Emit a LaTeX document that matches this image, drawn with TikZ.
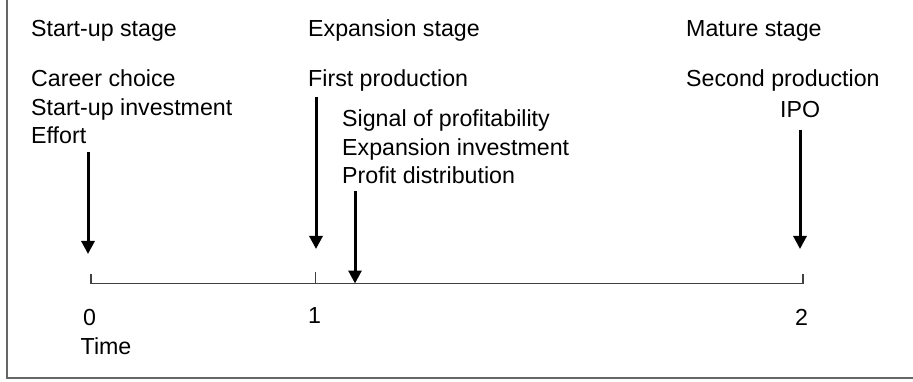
\documentclass[tikz,border=0pt]{standalone}
\usepackage{fontspec}
\setmainfont{Liberation Sans}
\usetikzlibrary{arrows.meta, positioning, calc}
\tikzset{
	x=1pt, y=-1pt, % one unit is one pixel of the page, y runs downwards
	lbl/.style={anchor=base west, inner sep=0pt, font=\fontsize{23.2}{28}\selectfont, text=black}, % every text on the page
	evarrow/.style={line width=3pt, -{Triangle[width=13pt,length=13pt]}}, % the event arrows
	axisline/.style={line width=1.5pt, draw=black!75}, % the time line and its ticks
	frameline/.style={line width=2pt, draw=black!60}, % left and bottom border
}

\begin{document}
\begin{tikzpicture}
		\useasboundingbox (0,0) rectangle (913,382);
		\draw[frameline] (7,0) -- (7,378) -- (913,378);

		% stages
		\node[lbl] (startup_stage) at (31,37) {Start-up stage};
		\node[lbl] (expansion_stage) at (308,37) {Expansion stage};
		\node[lbl] (mature_stage) at (686,37) {Mature stage};

		% events
		\node[lbl] (career) at (31,87) {Career choice};
		\node[lbl] (startup_inv) at (31,115.5) {Start-up investment};
		\node[lbl] (effort) at (31,144) {Effort};
		\node[lbl] (first_prod) at (308,87) {First production};
		\node[lbl] (signal) at (342,127) {Signal of profitability};
		\node[lbl] (expansion_inv) at (342,155.5) {Expansion investment};
		\node[lbl] (profit) at (342,184) {Profit distribution};
		\node[lbl] (second_prod) at (686,87) {Second production};
		\node[lbl] (ipo) at (780,118) {IPO};

		% time line
		\coordinate (tick_0) at (91,283.5);
		\coordinate (tick_1) at (315.5,283.5);
		\coordinate (tick_2) at (803,283.5);
		\draw[axisline] (tick_0) -- (tick_2);
		\draw[axisline] (tick_0) -- ++(0,-10);
		\draw[axisline] (tick_1) -- ++(0,-12);
		\draw[axisline] (tick_2) -- ++(0,-10);

		\node[lbl] (num_0) at (83,325) {0};
		\node[lbl] (num_1) at (308,323) {1};
		\node[lbl] (num_2) at (795,325) {2};
		\node[lbl] (time) at (80.5,354) {Time};

		% arrows
		\coordinate (from_0) at (88,152);
		\coordinate (to_0) at (88,254);
		\coordinate (from_1) at (316,97);
		\coordinate (to_1) at (316,249);
		\coordinate (from_p) at (355,191);
		\coordinate (to_p) at (355,283.5);
		\coordinate (from_2) at (800,130);
		\coordinate (to_2) at (800,249);
		\draw[evarrow] (from_0) -- (to_0);
		\draw[evarrow] (from_1) -- (to_1);
		\draw[evarrow] (from_p) -- (to_p);
		\draw[evarrow] (from_2) -- (to_2);
	\end{tikzpicture}
\end{document}
